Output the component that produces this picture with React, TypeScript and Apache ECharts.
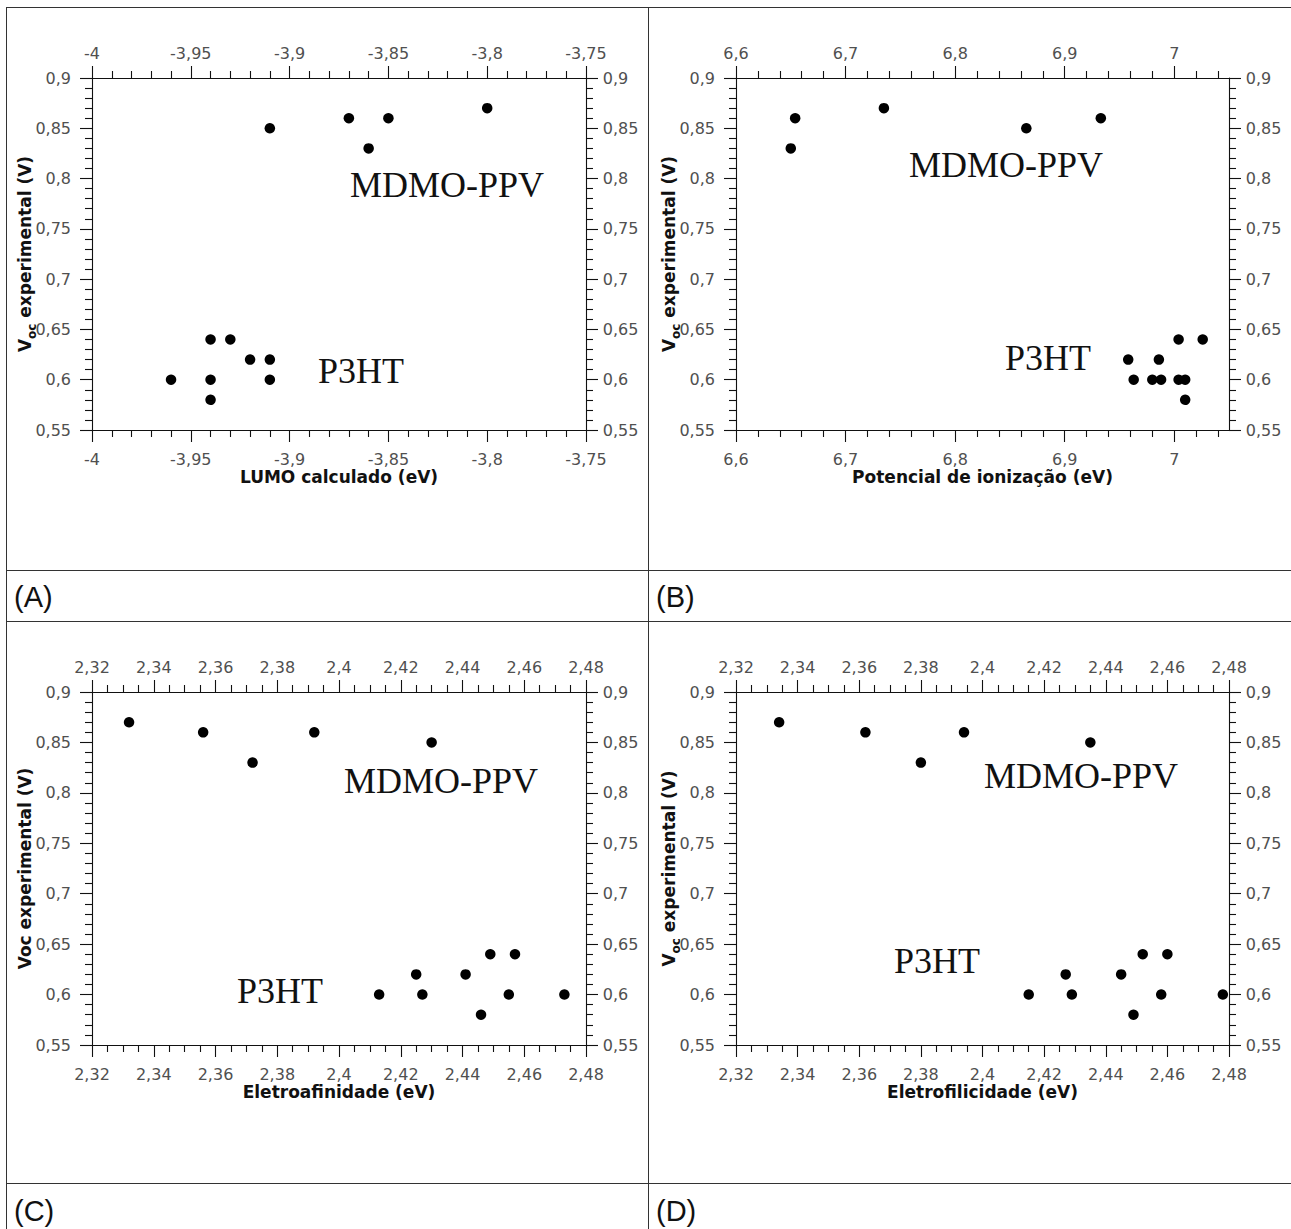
import React, { useEffect, useRef } from "react";
import * as echarts from "echarts";

// ---- (A) LUMO calculado (eV) vs Voc ----
const lumoMDMO = [-3.91, -3.87, -3.86, -3.85, -3.8];
const vocMDMO_A = [0.85, 0.86, 0.83, 0.86, 0.87];
const lumoP3HT = [-3.96, -3.94, -3.94, -3.94, -3.93, -3.92, -3.91, -3.91];
const vocP3HT_A = [0.6, 0.64, 0.6, 0.58, 0.64, 0.62, 0.62, 0.6];

// ---- (B) Potencial de ionização (eV) vs Voc ----
const ipMDMO = [6.65, 6.654, 6.735, 6.865, 6.933];
const vocMDMO_B = [0.83, 0.86, 0.87, 0.85, 0.86];
const ipP3HT = [6.958, 6.963, 6.98, 6.986, 6.988, 7.004, 7.004, 7.01, 7.01, 7.026];
const vocP3HT_B = [0.62, 0.6, 0.6, 0.62, 0.6, 0.64, 0.6, 0.6, 0.58, 0.64];

// ---- (C) Eletroafinidade (eV) vs Voc ----
const eaMDMO = [2.332, 2.356, 2.372, 2.392, 2.43];
const vocMDMO_C = [0.87, 0.86, 0.83, 0.86, 0.85];
const eaP3HT = [2.413, 2.425, 2.427, 2.441, 2.446, 2.449, 2.455, 2.457, 2.473];
const vocP3HT_C = [0.6, 0.62, 0.6, 0.62, 0.58, 0.64, 0.6, 0.64, 0.6];

// ---- (D) Eletrofilicidade (eV) vs Voc ----
const efMDMO = [2.334, 2.362, 2.38, 2.394, 2.435];
const vocMDMO_D = [0.87, 0.86, 0.83, 0.86, 0.85];
const efP3HT = [2.415, 2.427, 2.429, 2.445, 2.449, 2.452, 2.458, 2.46, 2.478];
const vocP3HT_D = [0.6, 0.62, 0.6, 0.62, 0.58, 0.64, 0.6, 0.64, 0.6];

// Major tick labels of the ionisation-potential axis (its range ends at 7.05)
const ipMajorTicks = [6.6, 6.7, 6.8, 6.9, 7.0];

const panelLetters = ["(A)", "(B)", "(C)", "(D)"];
const polymerNames = ["MDMO-PPV", "P3HT"];

const AXIS_COLOR = "#111";
const LABEL_COLOR = "#505050";
const SANS = "DejaVu Sans";

const comma = (v: number) => String(v).replace(".", ",");

type PanelDef = {
  left: number;
  top: number;
  width: number;
  height: number;
  xMin: number;
  xMax: number;
  xInterval: number;
  xMinorSplit: number;
  xName: string;
  yName: string;
  mdmo: [number[], number[]];
  p3ht: [number[], number[]];
  xMajorCustom?: number[];
  xMinorCustom?: number[];
};

const yNameRich = {
  v: { fontSize: 17, fontWeight: "bold", fontFamily: SANS, color: "#111", lineHeight: 26 },
  s: { fontSize: 12, fontWeight: "bold", fontFamily: SANS, color: "#111", lineHeight: 12, verticalAlign: "bottom" },
};

function buildOption(panels: PanelDef[]) {
  const grid: any[] = [];
  const xAxis: any[] = [];
  const yAxis: any[] = [];
  const series: any[] = [];

  panels.forEach((p, gi) => {
    grid.push({
      left: p.left,
      top: p.top,
      width: p.width,
      height: p.height,
      containLabel: false,
      outerBoundsMode: "none",
    });

    const lineStyle = { color: AXIS_COLOR, width: 1.1 };
    const labelBase = {
      color: LABEL_COLOR,
      fontSize: 16,
      fontFamily: SANS,
      lineHeight: 16,
      formatter: comma,
      showMinLabel: true,
      showMaxLabel: true,
    };

    const makeX = (position: "bottom" | "top") => {
      const ax: any = {
        type: "value",
        gridIndex: gi,
        position,
        min: p.xMin,
        max: p.xMax,
        interval: p.xInterval,
        axisLine: { show: true, onZero: false, lineStyle },
        axisTick: { show: true, length: 12, lineStyle },
        minorTick: { show: !p.xMinorCustom, splitNumber: p.xMinorSplit, length: 7, lineStyle },
        splitLine: { show: false },
        minorSplitLine: { show: false },
        axisLabel: { ...labelBase, margin: position === "bottom" ? 21 : 16.5 },
        nameMoveOverlap: false,
      };
      if (p.xMajorCustom) {
        ax.axisTick.customValues = p.xMajorCustom;
        ax.axisLabel.customValues = p.xMajorCustom;
      }
      if (position === "bottom") {
        ax.name = p.xName;
        ax.nameLocation = "middle";
        ax.nameGap = 37;
        ax.nameTextStyle = {
          fontSize: 17,
          fontWeight: "bold",
          fontFamily: SANS,
          color: "#111",
          lineHeight: 20,
        };
      }
      return ax;
    };

    const bottomIndex = xAxis.length;
    xAxis.push(makeX("bottom"));
    xAxis.push(makeX("top"));

    if (p.xMinorCustom) {
      (["bottom", "top"] as const).forEach((position) => {
        xAxis.push({
          type: "value",
          gridIndex: gi,
          position,
          min: p.xMin,
          max: p.xMax,
          interval: p.xInterval,
          axisLine: { show: false },
          axisTick: { show: true, length: 7, lineStyle, customValues: p.xMinorCustom },
          axisLabel: { show: false },
          splitLine: { show: false },
        });
      });
    }

    const makeY = (position: "left" | "right") => {
      const ax: any = {
        type: "value",
        gridIndex: gi,
        position,
        min: 0.55,
        max: 0.9,
        interval: 0.05,
        axisLine: { show: true, onZero: false, lineStyle },
        axisTick: { show: true, length: 12, lineStyle },
        minorTick: { show: true, splitNumber: 5, length: 7, lineStyle },
        splitLine: { show: false },
        minorSplitLine: { show: false },
        axisLabel: { ...labelBase, margin: position === "left" ? 21 : 16.7 },
        nameMoveOverlap: false,
      };
      if (position === "left") {
        ax.name = p.yName;
        ax.nameLocation = "middle";
        ax.nameGap = 54;
        ax.nameTextStyle = {
          fontSize: 17,
          fontWeight: "bold",
          fontFamily: SANS,
          color: "#111",
          lineHeight: 26,
          rich: yNameRich,
        };
      }
      return ax;
    };

    const leftIndex = yAxis.length;
    yAxis.push(makeY("left"));
    yAxis.push(makeY("right"));

    [p.mdmo, p.p3ht].forEach(([xs, ys], si) => {
      series.push({
        type: "scatter",
        name: polymerNames[si],
        xAxisIndex: bottomIndex,
        yAxisIndex: leftIndex,
        symbol: "circle",
        symbolSize: 10.5,
        itemStyle: { color: "#000", opacity: 1 },
        silent: true,
        clip: false,
        data: xs.map((x, i) => [x, ys[i]]),
      });
    });
  });

  return { grid, xAxis, yAxis, series };
}

function frameLine(x1: number, y1: number, x2: number, y2: number) {
  return {
    type: "line",
    silent: true,
    shape: { x1, y1, x2, y2 },
    style: { stroke: "#333", lineWidth: 1 },
  };
}

function label(text: string, x: number, y: number, font: string, align = "center") {
  return {
    type: "text",
    silent: true,
    x,
    y,
    style: {
      text,
      font,
      fill: "#111",
      align,
      verticalAlign: "middle",
      textAlign: align,
      textVerticalAlign: "middle",
    },
  };
}

export default function App() {
  const ref = useRef<HTMLDivElement>(null);

  useEffect(() => {
    if (!ref.current) return;
    const chart = echarts.init(ref.current, null, { renderer: "svg" });

    const ipMinorTicks: number[] = [];
    for (let k = 1; k <= 22; k++) {
      if (k % 5 !== 0) ipMinorTicks.push(Math.round((6.6 + k * 0.02) * 100) / 100);
    }

    const subName = "{v|V}{s|oc}{v| experimental (V)}";

    const panels: PanelDef[] = [
      {
        left: 92, top: 78, width: 494, height: 352,
        xMin: -4, xMax: -3.75, xInterval: 0.05, xMinorSplit: 5,
        xName: "LUMO calculado (eV)", yName: subName,
        mdmo: [lumoMDMO, vocMDMO_A], p3ht: [lumoP3HT, vocP3HT_A],
      },
      {
        left: 736, top: 78, width: 493, height: 352,
        xMin: 6.6, xMax: 7.05, xInterval: 0.1, xMinorSplit: 5,
        xName: "Potencial de ionização (eV)", yName: subName,
        mdmo: [ipMDMO, vocMDMO_B], p3ht: [ipP3HT, vocP3HT_B],
        xMajorCustom: ipMajorTicks, xMinorCustom: ipMinorTicks,
      },
      {
        left: 92, top: 692, width: 494, height: 353,
        xMin: 2.32, xMax: 2.48, xInterval: 0.02, xMinorSplit: 4,
        xName: "Eletroafinidade (eV)", yName: "{v|Voc experimental (V)}",
        mdmo: [eaMDMO, vocMDMO_C], p3ht: [eaP3HT, vocP3HT_C],
      },
      {
        left: 736, top: 692, width: 493, height: 353,
        xMin: 2.32, xMax: 2.48, xInterval: 0.02, xMinorSplit: 4,
        xName: "Eletrofilicidade (eV)", yName: subName,
        mdmo: [efMDMO, vocMDMO_D], p3ht: [efP3HT, vocP3HT_D],
      },
    ];

    const base = buildOption(panels);

    const serif = "36px 'Liberation Serif'";
    const letterFont = "29px 'Liberation Sans'";

    const graphic = [
      // table frame
      frameLine(6, 7.5, 1291, 7.5),
      frameLine(6.5, 7, 6.5, 1229),
      frameLine(648.5, 7, 648.5, 1229),
      frameLine(6, 570.5, 1291, 570.5),
      frameLine(6, 621.5, 1291, 621.5),
      frameLine(6, 1183.5, 1291, 1183.5),
      // panel letters
      label(panelLetters[0], 14, 597, letterFont, "left"),
      label(panelLetters[1], 656, 597, letterFont, "left"),
      label(panelLetters[2], 14, 1211, letterFont, "left"),
      label(panelLetters[3], 656, 1211, letterFont, "left"),
      // polymer annotations
      label(polymerNames[0], 447, 185, serif),
      label(polymerNames[1], 361, 371, serif),
      label(polymerNames[0], 1006, 165, serif),
      label(polymerNames[1], 1048, 358, serif),
      label(polymerNames[0], 441, 781, serif),
      label(polymerNames[1], 280, 991, serif),
      label(polymerNames[0], 1081, 776, serif),
      label(polymerNames[1], 937, 961, serif),
    ];

    chart.setOption({
      animation: false,
      backgroundColor: "#fff",
      ...base,
      graphic,
    });

    return () => chart.dispose();
  }, []);

  return (
    <div
      ref={ref}
      style={{ position: "absolute", left: 0, top: 0, width: 1291, height: 1229, background: "#fff" }}
    />
  );
}
